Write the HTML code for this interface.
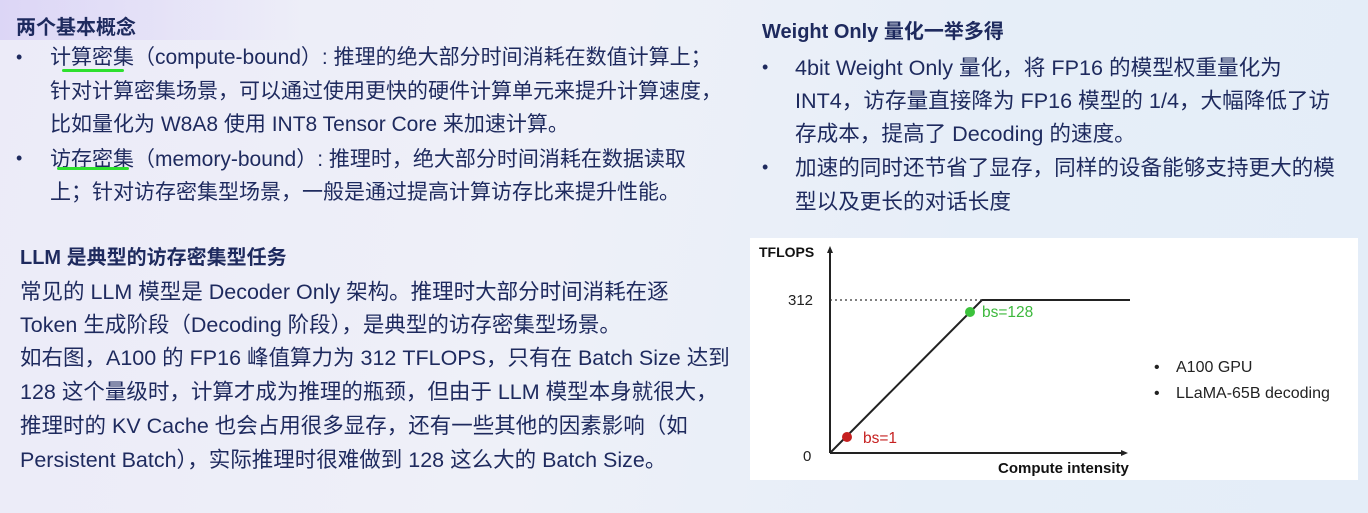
<!DOCTYPE html>
<html><head><meta charset="utf-8"><style>
body{margin:0;width:1368px;height:513px;overflow:hidden;background:linear-gradient(100deg,#ecebf8 0%,#eef0f8 40%,#e6eef8 70%,#e4edf8 100%);font-family:"Liberation Sans","Noto Sans CJK SC",sans-serif;color:#1e2a5e;position:relative}
.t{position:absolute;white-space:nowrap;font-size:21px;line-height:26px}
.r{font-size:21.6px}
.l{font-size:21.5px}
.b{font-weight:bold;font-size:20px}
.dot{position:absolute;font-size:18px}
.u{position:absolute;height:3px;background:#2ee02e;border-radius:2px}
</style></head><body>
<div style="position:absolute;left:0;top:0;width:300px;height:40px;background:linear-gradient(90deg,rgba(210,200,245,.6),rgba(0,0,0,0))"></div>
<div class="t b" style="left:16px;top:15px">两个基本概念</div>
<div class="dot" style="left:16px;top:47px">•</div>
<div class="t" style="left:50px;top:45px">计算密集（compute-bound）: 推理的绝大部分时间消耗在数值计算上；</div>
<div class="u" style="left:62px;top:69px;width:62px"></div>
<div class="t" style="left:50px;top:79px">针对计算密集场景，可以通过使用更快的硬件计算单元来提升计算速度，</div>
<div class="t" style="left:50px;top:112px">比如量化为 W8A8 使用 INT8 Tensor Core 来加速计算。</div>
<div class="dot" style="left:16px;top:148px">•</div>
<div class="t" style="left:50px;top:147px">访存密集（memory-bound）: 推理时，绝大部分时间消耗在数据读取</div>
<div class="u" style="left:57px;top:167px;width:72px"></div>
<div class="t" style="left:50px;top:180px">上；针对访存密集型场景，一般是通过提高计算访存比来提升性能。</div>
<div class="t b" style="left:20px;top:245px">LLM 是典型的访存密集型任务</div>
<div class="t l" style="left:20px;top:279px">常见的 LLM 模型是 Decoder Only 架构。推理时大部分时间消耗在逐</div>
<div class="t l" style="left:20px;top:312px">Token 生成阶段（Decoding 阶段），是典型的访存密集型场景。</div>
<div class="t l" style="left:20px;top:345px">如右图，A100 的 FP16 峰值算力为 312 TFLOPS，只有在 Batch Size 达到</div>
<div class="t l" style="left:20px;top:379px">128 这个量级时，计算才成为推理的瓶颈，但由于 LLM 模型本身就很大，</div>
<div class="t l" style="left:20px;top:413px">推理时的 KV Cache 也会占用很多显存，还有一些其他的因素影响（如</div>
<div class="t l" style="left:20px;top:447px">Persistent Batch），实际推理时很难做到 128 这么大的 Batch Size。</div>

<div class="t b" style="left:762px;top:19px">Weight Only 量化一举多得</div>
<div class="dot" style="left:762px;top:57px">•</div>
<div class="t r" style="left:795px;top:55px">4bit Weight Only 量化，将 FP16 的模型权重量化为</div>
<div class="t r" style="left:795px;top:88px">INT4，访存量直接降为 FP16 模型的 1/4，大幅降低了访</div>
<div class="t r" style="left:795px;top:121px">存成本，提高了 Decoding 的速度。</div>
<div class="dot" style="left:762px;top:157px">•</div>
<div class="t r" style="left:795px;top:155px">加速的同时还节省了显存，同样的设备能够支持更大的模</div>
<div class="t r" style="left:795px;top:189px">型以及更长的对话长度</div>

<svg style="position:absolute;left:0;top:0" width="1368" height="513">
<rect x="750" y="238" width="608" height="242" fill="#fff"/>
<g stroke="#222" stroke-width="2" fill="none">
<line x1="830" y1="453" x2="830" y2="252"/>
<line x1="830" y1="453" x2="1124" y2="453"/>
<polyline points="830,453 982,300 1130,300"/>
</g>
<line x1="830" y1="300" x2="982" y2="300" stroke="#333" stroke-width="1.3" stroke-dasharray="2,3"/>
<polygon points="830,246 827,253 833,253" fill="#222"/>
<polygon points="1128,453 1121,450 1121,456" fill="#222"/>
<circle cx="847" cy="437" r="5" fill="#c62020"/>
<circle cx="970" cy="312" r="5" fill="#3cc23c"/>
<g font-family="Liberation Sans,sans-serif">
<text x="759" y="257" font-size="14" font-weight="bold" fill="#111">TFLOPS</text>
<text x="788" y="305" font-size="15" fill="#222">312</text>
<text x="803" y="461" font-size="15" fill="#222">0</text>
<text x="998" y="473" font-size="15" font-weight="bold" fill="#111">Compute intensity</text>
<text x="863" y="443" font-size="15.5" fill="#c62020">bs=1</text>
<text x="982" y="317" font-size="15.5" fill="#3cb83c">bs=128</text>
<text x="1154" y="372" font-size="16" fill="#222">•</text>
<text x="1176" y="372" font-size="16" fill="#222">A100 GPU</text>
<text x="1154" y="398" font-size="16" fill="#222">•</text>
<text x="1176" y="398" font-size="16" fill="#222">LLaMA-65B decoding</text>
</g>
</svg>
</body></html>
